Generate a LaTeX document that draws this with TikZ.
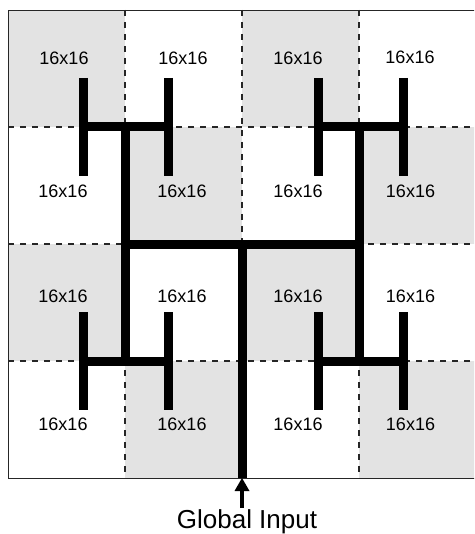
\documentclass[tikz,border=0pt]{standalone}
\usepackage{fontspec}
\setmainfont{Liberation Sans}
\usetikzlibrary{arrows.meta}
\definecolor{cellgray}{RGB}{227,227,227}
\begin{document}
\begin{tikzpicture}[x=1pt,y=-1pt,
  gridline/.style={line width=1.1pt, dash pattern=on 6pt off 6pt, black!85},
  border/.style={line width=0.9pt, black!85},
  wire/.style={line width=9pt, black},
  lbl/.style={font=\fontsize{18}{20}\selectfont, inner sep=0pt},
  biglbl/.style={font=\fontsize{26}{30}\selectfont, inner sep=0pt, anchor=base},
  inarrow/.style={line width=4pt, -{Triangle[width=15pt,length=13pt,line width=0pt]}}
]
\useasboundingbox (0,0) rectangle (474,534);
\clip (0,0) rectangle (474,534);
\fill[white] (0,0) rectangle (474,534);
% checkerboard cells
\foreach \c/\r in {0/0,2/0,1/1,3/1,0/2,2/2,1/3,3/3}
  \fill[cellgray] (8+117*\c,10+117*\r) rectangle ++(117,117);
% grid
\foreach \i in {1,2,3} {
  \draw[gridline] (8+117*\i,10) -- (8+117*\i,478);
  \draw[gridline] (8,10+117*\i) -- (476,10+117*\i);
}
\draw[border] (8,10) rectangle (476,478);
% labels
\node[lbl] (l00) at (64,58) {16x16};
\node[lbl] (l01) at (183,58) {16x16};
\node[lbl] (l02) at (298,58) {16x16};
\node[lbl] (l03) at (410,57) {16x16};
\node[lbl] (l10) at (63,191) {16x16};
\node[lbl] (l11) at (182,191) {16x16};
\node[lbl] (l12) at (298,191) {16x16};
\node[lbl] (l13) at (410.5,191) {16x16};
\node[lbl] (l20) at (63,296) {16x16};
\node[lbl] (l21) at (182,296) {16x16};
\node[lbl] (l22) at (298,296) {16x16};
\node[lbl] (l23) at (410.5,296) {16x16};
\node[lbl] (l30) at (63,424) {16x16};
\node[lbl] (l31) at (182,424) {16x16};
\node[lbl] (l32) at (298,424) {16x16};
\node[lbl] (l33) at (410.5,424) {16x16};
% H-tree
\foreach \cx/\cy in {125.5/127, 360.5/127, 125.5/361, 360.5/361} {
  \draw[wire] (\cx-42.5,\cy-49) -- (\cx-42.5,\cy+49);
  \draw[wire] (\cx+42.5,\cy-49) -- (\cx+42.5,\cy+49);
  \draw[wire] (\cx-42.5,\cy) -- (\cx+42.5,\cy);
}
\draw[wire] (125,127) -- (125,361);
\draw[wire] (359.5,127) -- (359.5,361);
\draw[wire] (125,244) -- (359.5,244);
\coordinate (gib) at (242,478);
\draw[wire] (242,244) -- (gib);
% global input
\node[biglbl] (gi) at (247,528) {Global Input};
\coordinate (gis) at (242,508);
\draw[inarrow] (gis) -- (gib);
\end{tikzpicture}
\end{document}
